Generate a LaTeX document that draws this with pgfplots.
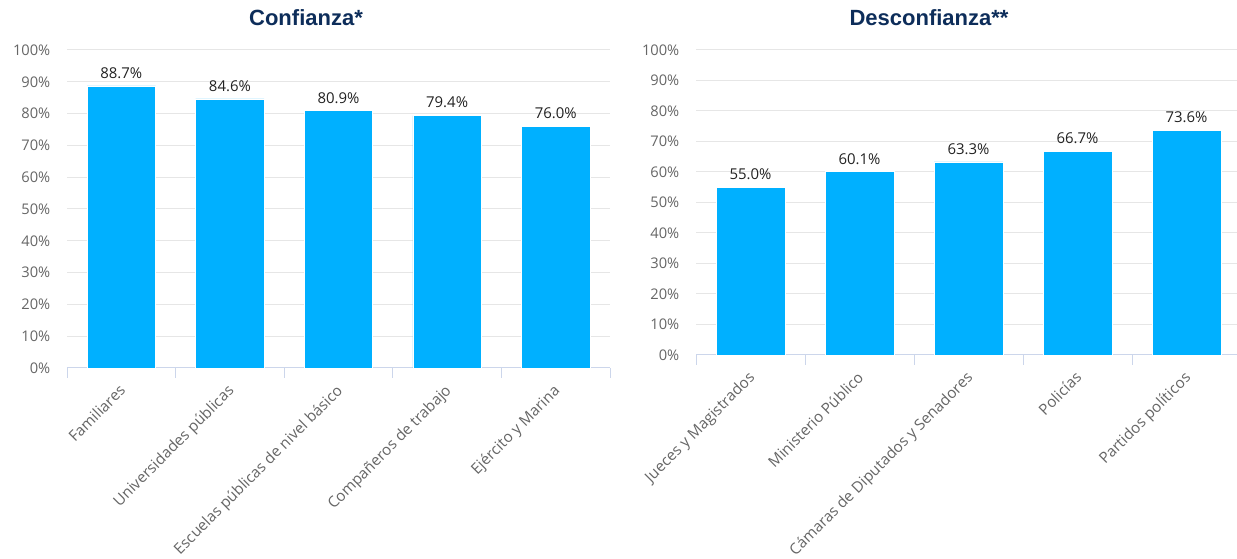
\documentclass[border=0pt]{standalone}
\usepackage{pgfplots}
\pgfplotsset{compat=1.18}
\usepackage{fontspec}
\setmainfont{Open Sans}
\newfontfamily\titlefont{Liberation Sans}
\definecolor{barblue}{RGB}{0,176,255}
\definecolor{axisc}{RGB}{204,214,235}
\definecolor{gridc}{RGB}{230,230,230}
\definecolor{tickc}{RGB}{102,102,102}
\definecolor{titlec}{RGB}{13,45,90}
\definecolor{labc}{RGB}{34,34,34}
\begin{document}
\begin{tikzpicture}
\useasboundingbox[fill=white] (0pt,0pt) rectangle ({1237*0.75pt},{559*0.75pt});
\pgfplotsset{
  myax/.style={
    scale only axis, anchor=south west,
    /pgf/number format/assume math mode=true,
    ymin=0, ymax=100, ytick={0,10,...,100},
    yticklabel={\pgfmathprintnumber{\tick}\%},
    xmin=-0.5, xmax=4.5, xtick={0,...,4},
    minor xtick={-0.5,0.5,...,4.5},
    tick align=outside,
    major tick length=0pt, minor tick length=7.5pt,
    minor x tick style={draw=axisc, line width=0.75pt},
    major x tick style={draw=none},
    ytick style={draw=none},
    axis x line*=bottom, axis y line*=left,
    x axis line style={draw=axisc, line width=0.75pt, -},
    y axis line style={draw=none},
    ymajorgrids, grid style={draw=gridc, line width=0.75pt},
    yticklabel style={font=\fontsize{11}{12}\selectfont, text=tickc, anchor=east, xshift=-9pt},
    xticklabel style={font=\fontsize{11.4}{13}\selectfont, text=tickc, rotate=45, anchor=north east, xshift=-6.5pt, yshift=-3pt},
    ybar, bar width=0.63,
    nodes near coords={\pgfmathprintnumber[fixed,precision=1,fixed zerofill]{\pgfplotspointmeta}\%},
    nodes near coords style={font=\fontsize{11.2}{12}\selectfont, text=labc, yshift=2pt},
    clip=false,
  }
}
\node[font=\titlefont\bfseries\fontsize{16.5}{18}\selectfont, text=titlec] at ({306*0.75pt},{541*0.75pt}) {Confianza*};
\node[font=\titlefont\bfseries\fontsize{16.5}{18}\selectfont, text=titlec] at ({929*0.75pt},{541*0.75pt}) {Desconfianza**};
\begin{axis}[myax, at={({67*0.75pt},{191*0.75pt})}, width=407.25pt, height=238.5pt,
  xticklabels={Familiares, Universidades públicas, Escuelas públicas de nivel básico, Compañeros de trabajo, Ejército y Marina}]
\addplot[fill=barblue, draw=white] coordinates {(0,88.7) (1,84.6) (2,80.9) (3,79.4) (4,76.0)};
\end{axis}
\begin{axis}[myax, at={({696*0.75pt},{204*0.75pt})}, width=408.75pt, height=228.75pt,
  xticklabels={Jueces y Magistrados, Ministerio Público, Cámaras de Diputados y Senadores, Policías, Partidos políticos}]
\addplot[fill=barblue, draw=white] coordinates {(0,55.0) (1,60.1) (2,63.3) (3,66.7) (4,73.6)};
\end{axis}
\end{tikzpicture}
\end{document}
